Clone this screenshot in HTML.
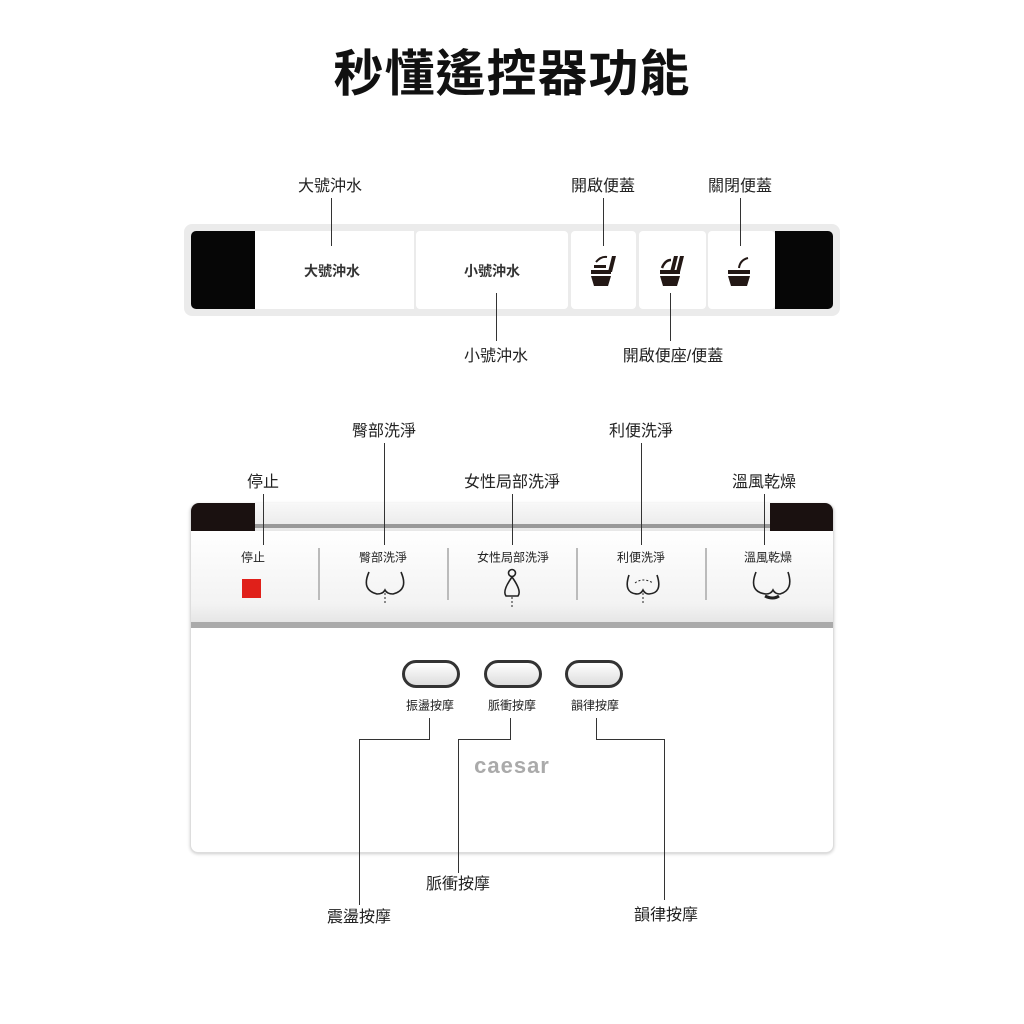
<!DOCTYPE html>
<html><head><meta charset="utf-8"><style>
body{margin:0;width:1024px;height:1024px;background:#fff;position:relative;overflow:hidden;font-family:"Liberation Sans","Noto Sans CJK TC",sans-serif;color:#222}
.a{position:absolute}
.t{position:absolute;transform:translate(-50%,-50%);white-space:nowrap;font-size:16px;color:#222}
.s{position:absolute;transform:translate(-50%,-50%);white-space:nowrap;font-size:12px;color:#222}
.v{position:absolute;width:1px;background:#333}
.h{position:absolute;height:1px;background:#333}
</style></head><body>
<div class="t" style="left:512px;top:70px;font-size:50px;font-weight:bold;color:#111;letter-spacing:1px">秒懂遙控器功能</div>

<!-- top panel -->
<div class="a" style="left:184px;top:224px;width:656px;height:92px;background:#ebebeb;border-radius:8px"></div>
<div class="a" style="left:191px;top:231px;width:64px;height:78px;background:#060606;border-radius:5px 0 0 5px"></div>
<div class="a" style="left:775px;top:231px;width:58px;height:78px;background:#060606;border-radius:0 5px 5px 0"></div>
<div class="a" style="left:255px;top:231px;width:159px;height:78px;background:#fff"></div>
<div class="a" style="left:416px;top:231px;width:152px;height:78px;background:#fff;border-radius:4px"></div>
<div class="a" style="left:571px;top:231px;width:65px;height:78px;background:#fff;border-radius:4px"></div>
<div class="a" style="left:639px;top:231px;width:67px;height:78px;background:#fff;border-radius:4px"></div>
<div class="a" style="left:708px;top:231px;width:67px;height:78px;background:#fff;border-radius:4px"></div>
<div class="t" style="left:332px;top:271px;font-size:14px;font-weight:bold;color:#333">大號沖水</div>
<div class="t" style="left:492px;top:271px;font-size:14px;font-weight:bold;color:#333">小號沖水</div>
<svg class="a" style="left:560px;top:240px" width="210" height="60">
 <g fill="#231815">
  <path d="M31 36 h20 l-3 10 h-14z"/><rect x="31" y="30" width="20" height="4"/><rect x="34" y="25" width="12" height="3"/>
  <path d="M48 32 l4 -16 h4 l-4 16z"/><path d="M36 22 q5 -6 11 -5" stroke="#231815" stroke-width="2" fill="none"/>
  <path d="M100 36 h20 l-3 10 h-14z"/><rect x="100" y="30" width="20" height="4"/>
  <path d="M110 32 l4 -16 h4 l-4 16z"/><path d="M116 32 l4 -16 h4 l-4 16z"/><path d="M102 28 q3 -8 9 -8" stroke="#231815" stroke-width="2.5" fill="none"/>
  <path d="M168 36 h22 l-3 10 h-16z"/><rect x="168" y="30" width="22" height="4"/><path d="M179 28 q1 -8 9 -10" stroke="#231815" stroke-width="2" fill="none"/>
 </g>
</svg>

<!-- top labels -->
<div class="t" style="left:330px;top:184px">大號沖水</div><div class="v" style="left:331px;top:198px;height:48px"></div>
<div class="t" style="left:603px;top:184px">開啟便蓋</div><div class="v" style="left:603px;top:198px;height:48px"></div>
<div class="t" style="left:740px;top:184px">關閉便蓋</div><div class="v" style="left:740px;top:198px;height:48px"></div>
<div class="t" style="left:496px;top:354px">小號沖水</div><div class="v" style="left:496px;top:293px;height:48px"></div>
<div class="t" style="left:673px;top:354px">開啟便座/便蓋</div><div class="v" style="left:670px;top:293px;height:48px"></div>

<!-- bottom panel -->
<div class="a" style="left:190px;top:503px;width:642px;height:348px;background:#fff;border:1px solid #ddd;border-radius:8px;box-shadow:0 1px 3px #ccc"></div>
<div class="a" style="left:191px;top:503px;width:642px;height:28px;background:linear-gradient(#f8f8f8,#e8e8e8);border-radius:8px 8px 0 0"></div>
<div class="a" style="left:191px;top:503px;width:64px;height:28px;background:#1a1110;border-radius:8px 0 0 0"></div>
<div class="a" style="left:770px;top:503px;width:63px;height:28px;background:#1a1110;border-radius:0 8px 0 0"></div>
<div class="a" style="left:255px;top:524px;width:515px;height:4px;background:#999"></div>
<div class="a" style="left:191px;top:531px;width:642px;height:91px;background:linear-gradient(#fff,#f3f3f3 80%,#e6e6e6)"></div>
<div class="a" style="left:318px;top:548px;width:2px;height:52px;background:#bbb"></div>
<div class="a" style="left:447px;top:548px;width:2px;height:52px;background:#bbb"></div>
<div class="a" style="left:576px;top:548px;width:2px;height:52px;background:#bbb"></div>
<div class="a" style="left:705px;top:548px;width:2px;height:52px;background:#bbb"></div>
<div class="a" style="left:191px;top:622px;width:642px;height:6px;background:#aaa"></div>
<div class="s" style="left:253px;top:557px">停止</div>
<div class="s" style="left:383px;top:557px">臀部洗淨</div>
<div class="s" style="left:513px;top:557px">女性局部洗淨</div>
<div class="s" style="left:641px;top:557px">利便洗淨</div>
<div class="s" style="left:768px;top:557px">溫風乾燥</div>
<div class="a" style="left:242px;top:579px;width:19px;height:19px;background:#e0201a"></div>
<svg class="a" style="left:191px;top:565px" width="642" height="45" fill="none" stroke="#222" stroke-width="1.6">
 <path d="M178 7 q-8 18 8 22 q6 0 8 -4 q2 4 8 4 q16 -4 8 -22"/>
 <path d="M194 28 v12" stroke-dasharray="2 2" stroke-width="1"/>
 <circle cx="321" cy="8" r="3.5"/><path d="M321 12 q-10 14 -6 19 h12 q4 -5 -6 -19"/>
 <path d="M321 32 v10" stroke-dasharray="2 2" stroke-width="1"/>
 <path d="M438 10 q-6 18 8 19 q4 0 6 -4 q2 4 6 4 q14 -1 8 -19"/>
 <path d="M444 18 q8 -6 18 0" stroke-dasharray="2 2" stroke-width="1"/><path d="M452 28 v12" stroke-dasharray="2 2" stroke-width="1"/>
 <path d="M565 7 q-8 20 10 22 q5 0 7 -4 q2 4 7 4 q14 -4 8 -22"/>
 <path d="M574 31 q8 4 14 0" stroke-width="3"/>
</svg>

<!-- oval buttons -->
<div class="a" style="left:402px;top:660px;width:52px;height:22px;border:3px solid #333;border-radius:14px;background:linear-gradient(#fff,#ddd)"></div>
<div class="a" style="left:484px;top:660px;width:52px;height:22px;border:3px solid #333;border-radius:14px;background:linear-gradient(#fff,#ddd)"></div>
<div class="a" style="left:565px;top:660px;width:52px;height:22px;border:3px solid #333;border-radius:14px;background:linear-gradient(#fff,#ddd)"></div>
<div class="s" style="left:430px;top:705px">振盪按摩</div>
<div class="s" style="left:512px;top:705px">脈衝按摩</div>
<div class="s" style="left:595px;top:705px">韻律按摩</div>
<div class="t" style="left:512px;top:766px;font-size:22px;color:#aaa;font-weight:bold;letter-spacing:1px">caesar</div>

<!-- bottom labels -->
<div class="t" style="left:384px;top:429px">臀部洗淨</div><div class="v" style="left:384px;top:443px;height:102px"></div>
<div class="t" style="left:641px;top:429px">利便洗淨</div><div class="v" style="left:641px;top:443px;height:102px"></div>
<div class="t" style="left:263px;top:480px">停止</div><div class="v" style="left:263px;top:494px;height:51px"></div>
<div class="t" style="left:512px;top:480px">女性局部洗淨</div><div class="v" style="left:512px;top:494px;height:51px"></div>
<div class="t" style="left:764px;top:480px">溫風乾燥</div><div class="v" style="left:764px;top:494px;height:51px"></div>

<div class="v" style="left:429px;top:718px;height:21px"></div><div class="h" style="left:359px;top:739px;width:71px"></div><div class="v" style="left:359px;top:739px;height:166px"></div>
<div class="t" style="left:359px;top:915px">震盪按摩</div>
<div class="v" style="left:510px;top:718px;height:21px"></div><div class="h" style="left:458px;top:739px;width:53px"></div><div class="v" style="left:458px;top:739px;height:134px"></div>
<div class="t" style="left:458px;top:882px">脈衝按摩</div>
<div class="v" style="left:596px;top:718px;height:21px"></div><div class="h" style="left:596px;top:739px;width:68px"></div><div class="v" style="left:664px;top:739px;height:161px"></div>
<div class="t" style="left:666px;top:913px">韻律按摩</div>
</body></html>
